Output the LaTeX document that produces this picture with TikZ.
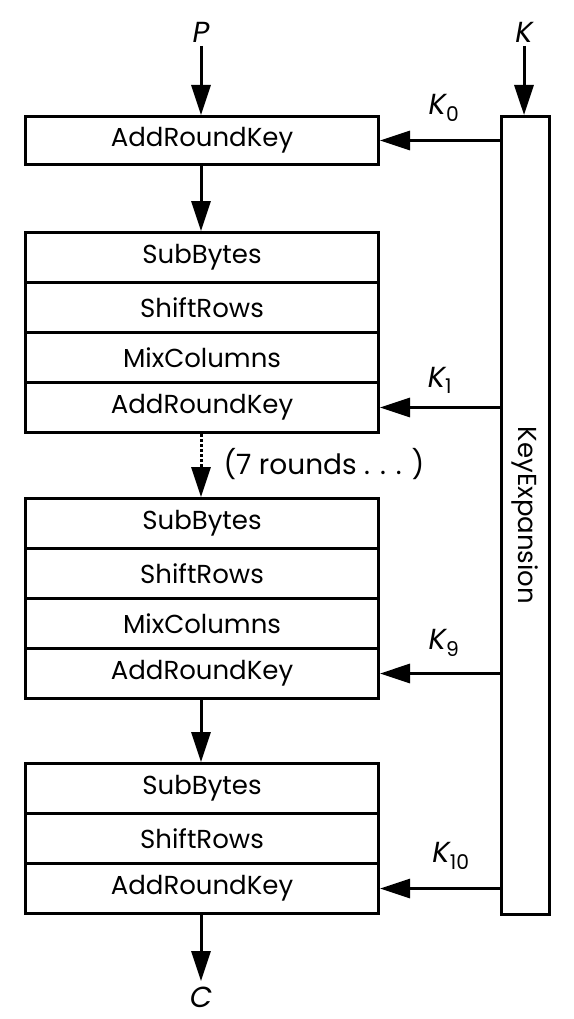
\documentclass[tikz,border=0pt]{standalone}
\usepackage{fontspec}
\setmainfont{Poppins}
\usetikzlibrary{arrows.meta}
\begin{document}
\begin{tikzpicture}[x=1pt,y=-1pt,line width=3pt,
  box/.style={draw,minimum width=353pt,minimum height=50pt,inner sep=0pt,font=\fontsize{26}{26}\selectfont,anchor=north west},
  arr/.style={-{Triangle[length=30pt,width=19pt]}},
  lbl/.style={font=\fontsize{29}{29}\selectfont\itshape,inner sep=0pt}]
\useasboundingbox (0,0) rectangle (573,1019);
% left column
\node[box,minimum height=48pt] (ark0) at (24,115) {AddRoundKey};
\node[box] (sb1) at (24,231) {SubBytes};
\node[box] (sr1) at (24,281) {ShiftRows};
\node[box] (mc1) at (24,331) {MixColumns};
\node[box] (ark1) at (24,381) {AddRoundKey};
\node[box] (sb9) at (24,497) {SubBytes};
\node[box] (sr9) at (24,547) {ShiftRows};
\node[box] (mc9) at (24,597) {MixColumns};
\node[box] (ark9) at (24,647) {AddRoundKey};
\node[box] (sb10) at (24,762) {SubBytes};
\node[box] (sr10) at (24,812) {ShiftRows};
\node[box] (ark10) at (24,862) {AddRoundKey};
% key expansion
\node[draw,minimum width=48pt,minimum height=798pt,inner sep=0pt,anchor=north west] (ke) at (500,115) {};
\node[rotate=-90,font=\fontsize{26}{26}\selectfont] (ketext) at (ke.center) {KeyExpansion};
% inputs
\node[lbl] (P) at (201,32) {P};
\node[lbl] (K) at (524,32) {K};
\node[lbl] (C) at (201,997) {C};
\draw[arr] (P.south |- 0,46) -- (ark0.north -| P.south);
\draw[arr] (K.south |- 0,46) -- (ke.north -| K.south);
\draw[arr] (ark0.south -| P.south) -- (sb1.north -| P.south);
\draw[arr,dash pattern=on 3pt off 2pt] (ark1.south -| P.south) -- (sb9.north -| P.south);
\draw[arr] (ark9.south -| P.south) -- (sb10.north -| P.south);
\draw[arr] (ark10.south -| P.south) -- ++(0,66) coordinate (cend);
\node[font=\fontsize{28}{28}\selectfont,anchor=west,inner sep=0pt] (rounds) at (222,464) {(7 rounds . . . )};
% keys
\draw[arr] (ke.west |- ark0.east) -- (ark0.east);
\draw[arr] (ke.west |- ark1.east) -- (ark1.east);
\draw[arr] (ke.west |- ark9.east) -- (ark9.east);
\draw[arr] (ke.west |- ark10.east) -- (ark10.east);
\node[lbl] (k0l) at (444,108) {K\textsubscript{\upshape 0}};
\node[lbl] (k1l) at (440,380) {K\textsubscript{\upshape 1}};
\node[lbl] (k9l) at (444,643) {K\textsubscript{\upshape 9}};
\node[lbl] (k10l) at (451,856) {K\textsubscript{\upshape 10}};
\end{tikzpicture}
\end{document}
